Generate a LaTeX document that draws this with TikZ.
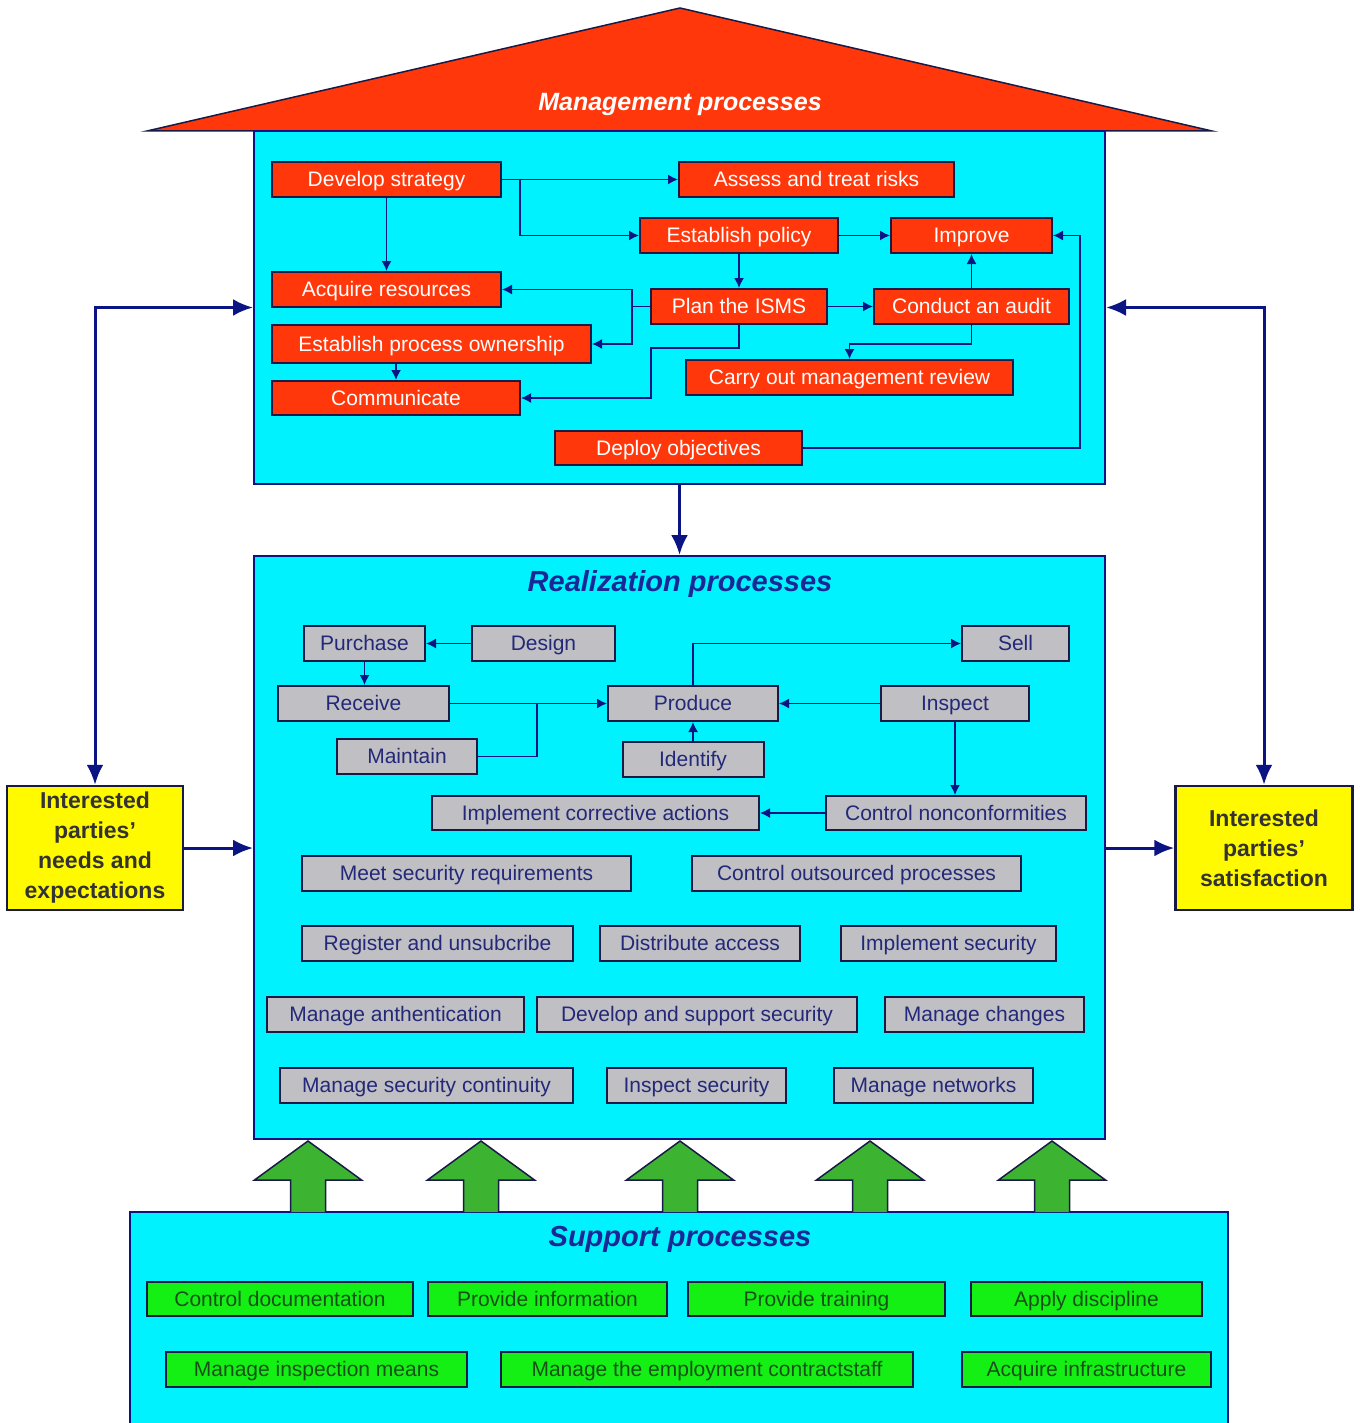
\documentclass[tikz,border=0pt]{standalone}
\usepackage{fontspec}
\setmainfont{Liberation Sans}
\usetikzlibrary{arrows.meta}
\definecolor{cyanc}{RGB}{0,242,255}
\definecolor{navy}{RGB}{10,20,130}
\definecolor{linec}{RGB}{25,25,70}
\definecolor{redc}{RGB}{255,55,10}
\definecolor{grayc}{RGB}{192,192,196}
\definecolor{navyt}{RGB}{35,40,120}
\definecolor{greenc}{RGB}{20,240,20}
\definecolor{greent}{RGB}{25,80,25}
\definecolor{arrowg}{RGB}{60,180,50}
\definecolor{yellowc}{RGB}{255,250,0}
\definecolor{titlec}{RGB}{25,40,150}
\tikzset{
  sz/.style 2 args={minimum width=#1pt, minimum height=#2pt},
  box/.style={draw=linec, line width=2pt, inner sep=0pt, text height=18pt, text depth=3.5pt,
     font=\fontsize{21}{24}\selectfont},
  mnode/.style={box, fill=redc, text=white},
  rnode/.style={box, fill=grayc, text=navyt},
  snode/.style={box, fill=greenc, text=greent},
  bigbox/.style={draw=navy, line width=2pt, fill=cyanc, inner sep=0pt},
  ybox/.style={draw=linec, line width=2.5pt, fill=yellowc, inner sep=0pt, align=center,
     font=\fontsize{23}{30}\selectfont\bfseries, text=black!80},
  ttl/.style={font=\fontsize{29}{32}\selectfont\bfseries\itshape, text=titlec},
  ca/.style={draw=navy, line width=1.5pt, -{Latex[length=10pt,width=10pt]}},
  cl/.style={draw=navy, line width=1.5pt},
  ba/.style={draw=navy, line width=3pt, -{Latex[length=20pt,width=17pt]}},
  bab/.style={draw=navy, line width=3pt, {Latex[length=20pt,width=17pt]}-{Latex[length=20pt,width=17pt]}},
  garrow/.style={draw=linec, line width=1.5pt, fill=arrowg},
}
\begin{document}
\begin{tikzpicture}[x=1pt,y=-1pt]
\useasboundingbox (0,0) rectangle (1359,1423);
\fill[white] (0,0) rectangle (1359,1423);

% roof
\draw[draw=linec, line width=1.5pt, fill=redc] (147,131) -- (680,8) -- (1212,131) -- cycle;
\node[font=\fontsize{25}{28}\selectfont\bfseries\itshape, text=white] (mtitle) at (680,104) {Management processes};

% big boxes
\node[bigbox, sz={851}{353}] (mgmt) at (679.5,307.5) {};
\node[bigbox, sz={851}{583}] (real) at (679.5,847.5) {};
\node[bigbox, sz={1098}{215}] (supp) at (679,1319.5) {};
\node[ttl] (rtitle) at (680,584) {Realization processes};
\node[ttl] (stitle) at (680,1239) {Support processes};

% green block arrows
\foreach \cx in {308,481,680,870,1052}{
  \draw[garrow] (\cx-17.5,1212) -- (\cx-17.5,1180) -- (\cx-53.5,1180) -- (\cx,1141)
     -- (\cx+53.5,1180) -- (\cx+17.5,1180) -- (\cx+17.5,1212);
}

% management nodes
\node[mnode, sz={229}{35}] (ds) at (386.5,179.5) {Develop strategy};
\node[mnode, sz={275}{35}] (ar) at (816.5,179.5) {Assess and treat risks};
\node[mnode, sz={198}{35}] (ep) at (739,235.5) {Establish policy};
\node[mnode, sz={161}{35}] (imp) at (971.5,235.5) {Improve};
\node[mnode, sz={229}{35}] (acq) at (386.5,289.5) {Acquire resources};
\node[mnode, sz={176}{35}] (plan) at (739,306.5) {Plan the ISMS};
\node[mnode, sz={195}{35}] (aud) at (971.5,306.5) {Conduct an audit};
\node[mnode, sz={319}{38}] (epo) at (431.5,344) {Establish process ownership};
\node[mnode, sz={327}{35}] (cmr) at (849.5,377.5) {Carry out management review};
\node[mnode, sz={248}{34}] (comm) at (396,398) {Communicate};
\node[mnode, sz={247}{34}] (dep) at (678.5,448) {Deploy objectives};

% management connectors
\draw[ca] (ds.east) -- (ar.west);
\draw[ca] ([xshift=18pt]ds.east) |- (ep.west);
\draw[ca] (ds.south) -- (acq.north);
\draw[ca] (ep.east) -- (imp.west);
\draw[ca] (ep.south) -- (plan.north);
\draw[ca] (plan.west) -- ++(-18,0) |- (acq.east);
\draw[ca] (plan.west) -- ++(-18,0) |- (epo.east);
\coordinate (k1) at (651,348);
\draw[ca] (plan.south) |- (k1) |- (comm.east);
\draw[ca] (comm.north |- epo.south) -- (comm.north);
\draw[ca] (plan.east) -- (aud.west);
\draw[ca] (aud.north) -- (imp.south);
\draw[ca] (aud.south) -- ++(0,19) -| (cmr.north);
\coordinate (k2) at (1080,235.5);
\draw[ca] (dep.east) -| (k2) -- (imp.east);

% realization nodes
\node[rnode, sz={121}{35}] (pur) at (364.5,643.5) {Purchase};
\node[rnode, sz={143}{35}] (des) at (543.5,643.5) {Design};
\node[rnode, sz={107}{35}] (sell) at (1015.5,643.5) {Sell};
\node[rnode, sz={171}{35}] (rec) at (363.5,703.5) {Receive};
\node[rnode, sz={170}{35}] (prod) at (693,703.5) {Produce};
\node[rnode, sz={148}{35}] (insp) at (955,703.5) {Inspect};
\node[rnode, sz={140}{35}] (maint) at (407,756.5) {Maintain};
\node[rnode, sz={141}{35}] (iden) at (693,759.5) {Identify};
\node[rnode, sz={327}{34}] (ica) at (595.5,813) {Implement corrective actions};
\node[rnode, sz={260}{34}] (cnc) at (956,813) {Control nonconformities};
\node[rnode, sz={329}{35}] (msr) at (466.5,873.5) {Meet security requirements};
\node[rnode, sz={329}{35}] (cop) at (856.5,873.5) {Control outsourced processes};
\node[rnode, sz={271}{35}] (reg) at (437.5,943.5) {Register and unsubcribe};
\node[rnode, sz={200}{35}] (dist) at (700,943.5) {Distribute access};
\node[rnode, sz={215}{35}] (impsec) at (948.5,943.5) {Implement security};
\node[rnode, sz={257}{35}] (mauth) at (395.5,1014.5) {Manage anthentication};
\node[rnode, sz={320}{35}] (dev) at (697,1014.5) {Develop and support security};
\node[rnode, sz={199}{35}] (mch) at (984.5,1014.5) {Manage changes};
\node[rnode, sz={293}{35}] (msc) at (426.5,1085.5) {Manage security continuity};
\node[rnode, sz={179}{35}] (isec) at (696.5,1085.5) {Inspect security};
\node[rnode, sz={199}{35}] (mnet) at (933.5,1085.5) {Manage networks};

% realization connectors
\draw[ca] (des.west) -- (pur.east);
\draw[ca] (pur.south) -- (pur.south |- rec.north);
\draw[ca] (rec.east) -- (prod.west);
\coordinate (j1) at (537,703.5);
\draw[cl] (maint.east) -| (j1);
\draw[ca] (prod.north) |- (sell.west);
\draw[ca] (insp.west) -- (prod.east);
\draw[ca] (iden.north) -- (prod.south);
\draw[ca] (insp.south) -- (insp.south |- cnc.north);
\draw[ca] (cnc.west) -- (ica.east);

% support nodes
\node[snode, sz={266}{34}] (cd) at (280,1299) {Control documentation};
\node[snode, sz={239}{34}] (pi) at (547.5,1299) {Provide information};
\node[snode, sz={257}{34}] (pt) at (816.5,1299) {Provide training};
\node[snode, sz={231}{34}] (ad) at (1086.5,1299) {Apply discipline};
\node[snode, sz={301}{35}] (mim) at (316.5,1369.5) {Manage inspection means};
\node[snode, sz={412}{35}] (mec) at (707,1369.5) {Manage the employment contractstaff};
\node[snode, sz={249}{35}] (ai) at (1086.5,1369.5) {Acquire infrastructure};

% interested parties
\node[ybox, sz={176}{124}] (needs) at (95,848) {Interested\\parties'\\needs and\\expectations};
\node[ybox, sz={177}{124}] (sat) at (1264,848) {Interested\\parties'\\satisfaction};

% big arrows
\draw[ba] (mgmt.south) -- (real.north);
\draw[bab] (needs.north) |- (mgmt.west);
\draw[bab] (sat.north) |- (mgmt.east);
\draw[ba] (needs.east) -- (needs.east -| real.west);
\draw[ba] (real.east |- sat.west) -- (sat.west);
\end{tikzpicture}
\end{document}
